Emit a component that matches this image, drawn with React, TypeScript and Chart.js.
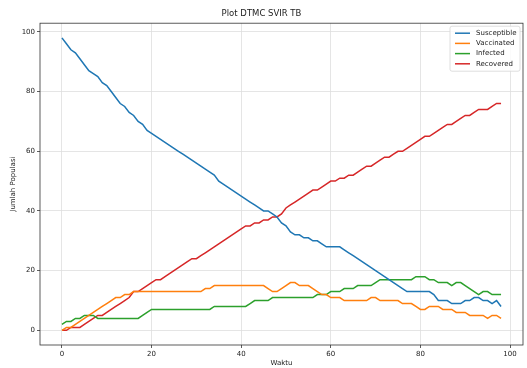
import React, { useEffect, useRef } from 'react';
import { Chart, registerables } from 'chart.js';

Chart.register(...registerables);

const TITLE = 'Plot DTMC SVIR TB';
const X_LABEL = 'Waktu';
const Y_LABEL = 'Jumlah Populasi';
const SERIES_NAMES = ['Susceptible', 'Vaccinated', 'Infected', 'Recovered'];
const COLORS = ['#1f77b4', '#ff7f0e', '#2ca02c', '#d62728'];
const X_TICKS = [0, 20, 40, 60, 80, 100];
const Y_TICKS = [0, 20, 40, 60, 80, 100];

const days = [
  0, 1, 2, 3, 4, 5, 6, 7, 8, 9,
  10, 11, 12, 13, 14, 15, 16, 17, 18, 19,
  20, 21, 22, 23, 24, 25, 26, 27, 28, 29,
  30, 31, 32, 33, 34, 35, 36, 37, 38, 39,
  40, 41, 42, 43, 44, 45, 46, 47, 48, 49,
  50, 51, 52, 53, 54, 55, 56, 57, 58, 59,
  60, 61, 62, 63, 64, 65, 66, 67, 68, 69,
  70, 71, 72, 73, 74, 75, 76, 77, 78, 79,
  80, 81, 82, 83, 84, 85, 86, 87, 88, 89,
  90, 91, 92, 93, 94, 95, 96, 97, 98,
];

const susceptible = [
  98, 96, 94, 93, 91, 89, 87, 86, 85, 83,
  82, 80, 78, 76, 75, 73, 72, 70, 69, 67,
  66, 65, 64, 63, 62, 61, 60, 59, 58, 57,
  56, 55, 54, 53, 52, 50, 49, 48, 47, 46,
  45, 44, 43, 42, 41, 40, 40, 39, 38, 36,
  35, 33, 32, 32, 31, 31, 30, 30, 29, 28,
  28, 28, 28, 27, 26, 25, 24, 23, 22, 21,
  20, 19, 18, 17, 16, 15, 14, 13, 13, 13,
  13, 13, 13, 12, 10, 10, 10, 9, 9, 9,
  10, 10, 11, 11, 10, 10, 9, 10, 8,
];

const vaccinated = [
  0, 1, 1, 2, 3, 4, 5, 6, 7, 8,
  9, 10, 11, 11, 12, 12, 13, 13, 13, 13,
  13, 13, 13, 13, 13, 13, 13, 13, 13, 13,
  13, 13, 14, 14, 15, 15, 15, 15, 15, 15,
  15, 15, 15, 15, 15, 15, 14, 13, 13, 14,
  15, 16, 16, 15, 15, 15, 14, 13, 12, 12,
  11, 11, 11, 10, 10, 10, 10, 10, 10, 11,
  11, 10, 10, 10, 10, 10, 9, 9, 9, 8,
  7, 7, 8, 8, 8, 7, 7, 7, 6, 6,
  6, 5, 5, 5, 5, 4, 5, 5, 4,
];

const infected = [
  2, 3, 3, 4, 4, 5, 5, 5, 4, 4,
  4, 4, 4, 4, 4, 4, 4, 4, 5, 6,
  7, 7, 7, 7, 7, 7, 7, 7, 7, 7,
  7, 7, 7, 7, 8, 8, 8, 8, 8, 8,
  8, 8, 9, 10, 10, 10, 10, 11, 11, 11,
  11, 11, 11, 11, 11, 11, 11, 12, 12, 12,
  13, 13, 13, 14, 14, 14, 15, 15, 15, 15,
  16, 17, 17, 17, 17, 17, 17, 17, 17, 18,
  18, 18, 17, 17, 16, 16, 16, 15, 16, 16,
  15, 14, 13, 12, 13, 13, 12, 12, 12,
];

const recovered = [
  0, 0, 1, 1, 1, 2, 3, 4, 5, 5,
  6, 7, 8, 9, 10, 11, 13, 13, 14, 15,
  16, 17, 17, 18, 19, 20, 21, 22, 23, 24,
  24, 25, 26, 27, 28, 29, 30, 31, 32, 33,
  34, 35, 35, 36, 36, 37, 37, 38, 38, 39,
  41, 42, 43, 44, 45, 46, 47, 47, 48, 49,
  50, 50, 51, 51, 52, 52, 53, 54, 55, 55,
  56, 57, 58, 58, 59, 60, 60, 61, 62, 63,
  64, 65, 65, 66, 67, 68, 69, 69, 70, 71,
  72, 72, 73, 74, 74, 74, 75, 76, 76,
];

const FONT = 'DejaVu Sans';

const frameAndLegend = {
  id: 'frameAndLegend',
  afterDatasetsDraw(chart: any) {
    const { ctx, chartArea } = chart;
    ctx.save();
    ctx.strokeStyle = '#333';
    ctx.lineWidth = 0.8;
    ctx.strokeRect(chartArea.left, chartArea.top, chartArea.right - chartArea.left, chartArea.bottom - chartArea.top);

    // legend
    const w = 70;
    const h = 45;
    const x0 = chartArea.right - w - 3;
    const y0 = chartArea.top + 3;
    ctx.fillStyle = 'rgba(255,255,255,0.85)';
    ctx.strokeStyle = '#d6d6d6';
    ctx.lineWidth = 0.8;
    ctx.beginPath();
    if ((ctx as any).roundRect) (ctx as any).roundRect(x0, y0, w, h, 2);
    else ctx.rect(x0, y0, w, h);
    ctx.fill();
    ctx.stroke();
    ctx.font = `7px "${FONT}"`;
    ctx.textBaseline = 'middle';
    ctx.textAlign = 'left';
    const datasets = chart.data.datasets;
    for (let i = 0; i < datasets.length; i++) {
      const cy = y0 + 7 + i * 10.2;
      ctx.strokeStyle = datasets[i].borderColor;
      ctx.lineWidth = 1.5;
      ctx.beginPath();
      ctx.moveTo(x0 + 5, cy);
      ctx.lineTo(x0 + 20, cy);
      ctx.stroke();
      ctx.fillStyle = '#222';
      ctx.fillText(datasets[i].label, x0 + 26, cy);
    }
    ctx.restore();
  },
};

export default function App() {
  const ref = useRef<HTMLCanvasElement | null>(null);

  useEffect(() => {
    if (!ref.current) return;
    const seriesValues = [susceptible, vaccinated, infected, recovered];
    const chart = new Chart(ref.current, {
      type: 'line',
      data: {
        datasets: seriesValues.map((vals, k) => ({
          label: SERIES_NAMES[k],
          data: days.map((d, i) => ({ x: d, y: vals[i] })),
          borderColor: COLORS[k],
          backgroundColor: COLORS[k],
          borderWidth: 1.5,
          pointRadius: 0,
          tension: 0,
          fill: false,
        })),
      },
      options: {
        responsive: false,
        animation: false,
        layout: { padding: { right: 4, left: 0, top: 0, bottom: 0 } },
        plugins: {
          legend: { display: false },
          tooltip: { enabled: false },
          title: {
            display: true,
            text: TITLE,
            color: '#222',
            font: { family: FONT, size: 8.5, weight: 'normal' },
            padding: { top: 9, bottom: 4 },
          },
        },
        scales: {
          x: {
            type: 'linear',
            min: -4.9,
            max: 102.9,
            afterFit: (s: any) => { s.height = 23; },
            afterBuildTicks: (s: any) => { s.ticks = X_TICKS.map((v) => ({ value: v })); },
            ticks: {
              includeBounds: false,
              color: '#222',
              font: { family: FONT, size: 7 },
              padding: 2,
              maxRotation: 0,
            },
            grid: { color: '#dedede', lineWidth: 0.8, tickLength: 3, tickColor: '#333' },
            border: { display: false },
            title: {
              display: true,
              text: X_LABEL,
              color: '#222',
              font: { family: FONT, size: 7 },
              padding: { top: 0, bottom: 1 },
            },
          },
          y: {
            type: 'linear',
            min: -4.9,
            max: 102.9,
            afterFit: (s: any) => { s.width = 40; },
            afterBuildTicks: (s: any) => { s.ticks = Y_TICKS.map((v) => ({ value: v })); },
            ticks: {
              includeBounds: false,
              color: '#222',
              font: { family: FONT, size: 7 },
              padding: 2,
            },
            grid: { color: '#dedede', lineWidth: 0.8, tickLength: 3, tickColor: '#333' },
            border: { display: false },
            title: {
              display: true,
              text: Y_LABEL,
              color: '#222',
              font: { family: FONT, size: 7 },
              padding: { top: 9, bottom: 0 },
            },
          },
        },
      },
      plugins: [frameAndLegend],
    });
    return () => chart.destroy();
  }, []);

  return (
    <div style={{ position: 'absolute', left: 0, top: 0, width: 527, height: 368, background: '#fff' }}>
      <canvas ref={ref} width={527} height={368} />
    </div>
  );
}
